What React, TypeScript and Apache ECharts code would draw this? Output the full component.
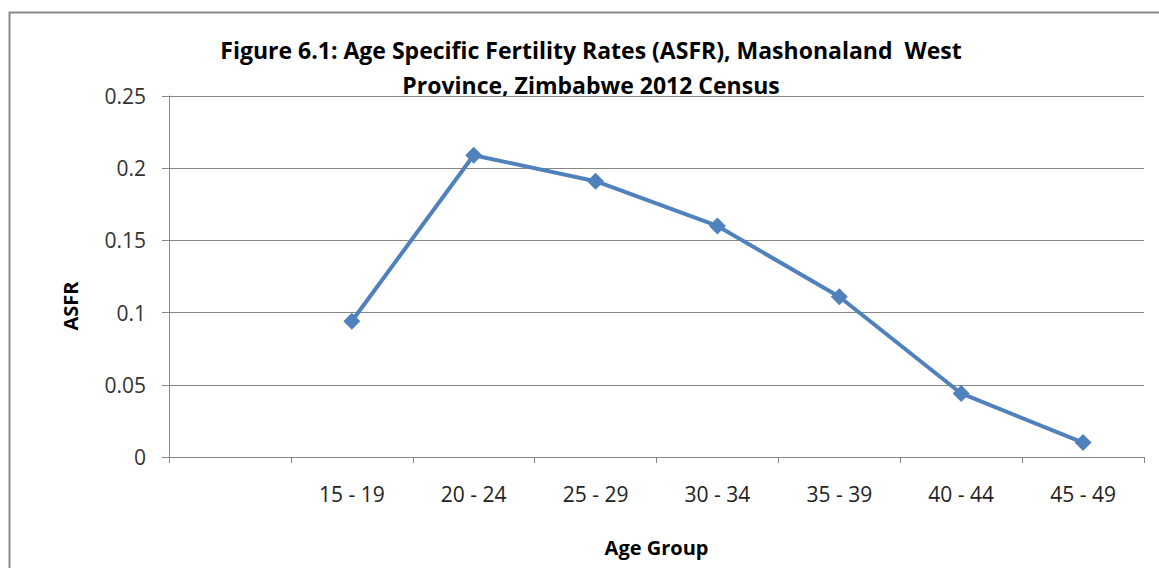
import React, { useEffect, useRef } from "react";
import * as echarts from "echarts";

const categories = ["", "15 - 19", "20 - 24", "25 - 29", "30 - 34", "35 - 39", "40 - 44", "45 - 49"];
const asfr = [null, 0.094, 0.209, 0.191, 0.16, 0.111, 0.044, 0.01];
const titleLines = ["Figure 6.1: Age Specific Fertility Rates (ASFR), Mashonaland  West", "Province, Zimbabwe 2012 Census"];
const yAxisName = "ASFR";
const xAxisName = "Age Group";

const FONT = "'Open Sans', Lato, sans-serif";

export default function App() {
  const ref = useRef<HTMLDivElement>(null);
  useEffect(() => {
    document.body.style.margin = "0";
    const chart = echarts.init(ref.current!, null, { renderer: "svg" });
    chart.setOption({
      animation: false,
      backgroundColor: "#ffffff",
      graphic: [
        {
          type: "rect",
          shape: { x: 9.5, y: 12.5, width: 1200, height: 600 },
          style: { fill: "none", stroke: "#8a8a8a", lineWidth: 2 },
          silent: true,
        },
        {
          type: "text",
          x: 591,
          y: 50,
          style: { text: titleLines[0], font: `bold 23px ${FONT}`, fill: "#000", textAlign: "center", textVerticalAlign: "middle" },
        },
        {
          type: "text",
          x: 591,
          y: 85,
          style: { text: titleLines[1], font: `bold 23px ${FONT}`, fill: "#000", textAlign: "center", textVerticalAlign: "middle" },
        },
        {
          type: "text",
          x: 70,
          y: 306,
          rotation: Math.PI / 2,
          style: { text: yAxisName, font: `bold 20px ${FONT}`, fill: "#000", textAlign: "center", textVerticalAlign: "middle" },
        },
      ],
      grid: { left: 169, right: 15, top: 96, bottom: 111, containLabel: false, outerBoundsMode: "none" },
      xAxis: {
        type: "category",
        data: categories,
        boundaryGap: true,
        name: xAxisName,
        nameLocation: "middle",
        nameGap: 80,
        nameTextStyle: { fontFamily: FONT, fontSize: 20, fontWeight: "bold", color: "#000" },
        axisLine: { lineStyle: { color: "#868686", width: 1 } },
        axisTick: { show: true, length: 6, lineStyle: { color: "#868686" }, alignWithLabel: false },
        axisLabel: { fontFamily: FONT, fontSize: 21, color: "#222", margin: 26 },
        splitLine: { show: false },
      },
      yAxis: {
        type: "value",
        min: 0,
        max: 0.25,
        interval: 0.05,
        axisLine: { show: true, lineStyle: { color: "#868686", width: 1 } },
        axisTick: { show: true, length: 7, lineStyle: { color: "#868686" } },
        axisLabel: { fontFamily: FONT, fontSize: 21, color: "#333", margin: 23, formatter: (v: number) => String(Math.round(v * 100) / 100) },
        splitLine: { show: true, lineStyle: { color: "#868686", width: 1 } },
      },
      series: [
        {
          type: "line",
          data: asfr,
          connectNulls: false,
          symbol: "diamond",
          symbolSize: 17,
          showSymbol: true,
          lineStyle: { color: "#4F81BD", width: 4 },
          itemStyle: { color: "#4F81BD" },
        },
      ],
    });
    return () => chart.dispose();
  }, []);
  return <div ref={ref} style={{ width: 1159, height: 568 }} />;
}
